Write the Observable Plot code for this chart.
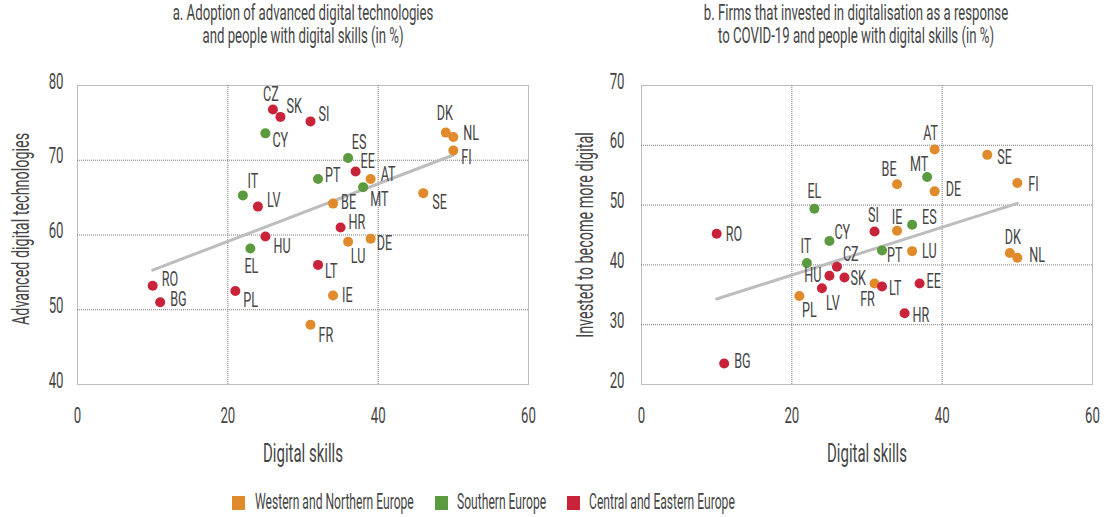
<!DOCTYPE html>
<html>
<head>
<meta charset="utf-8">
<script src="https://cdn.jsdelivr.net/npm/d3@7"></script>
<script src="https://cdn.jsdelivr.net/npm/@observablehq/plot@0.6"></script>
<style>
  body { margin: 0; background: #fff; }
  #root { position: relative; width: 1106px; height: 517px; overflow: hidden;
          font-family: Roboto, "Open Sans", sans-serif; font-weight: 400; color: #454545; background: #fff; }
  .ttl { position: absolute; white-space: nowrap; font-size: 22px; line-height: 22px; }
  .panel { position: absolute; top: 60px; }
  .sw { position: absolute; width: 13px; height: 14px; top: 496px; }
  .lt { position: absolute; white-space: nowrap; font-size: 22px; line-height: 22px; top: 491px; transform-origin: 0 50%; }
</style>
</head>
<body>
<div id="root"></div>
<script>
// ---------------- data ----------------
const countries = ["AT","BE","BG","CY","CZ","DE","DK","EE","EL","ES","FI","FR","HR","HU","IE","IT","LT","LU","LV","MT","NL","PL","PT","RO","SE","SI","SK"];
// people with digital skills (%)
const digitalSkills = [39,34,11,25,26,39,49,37,23,36,50,31,35,25,34,22,32,36,24,38,50,21,32,10,46,31,27];
// panel a: adoption of advanced digital technologies (%)
const advancedTech = [67.5,64.2,51.0,73.6,76.8,59.5,73.7,68.5,58.2,70.3,71.3,48.0,61.0,59.8,51.9,65.3,56.0,59.1,63.8,66.4,73.1,52.5,67.5,53.2,65.6,75.2,75.8];
// panel b: firms that invested to become more digital (%)
const investedDigital = [59.3,53.5,23.5,44.0,39.7,52.3,42.0,36.9,49.4,46.7,53.7,36.9,31.9,38.2,45.7,40.3,36.4,42.3,36.1,54.7,41.2,34.8,42.4,45.2,58.4,45.6,37.9];
// region groups (W = Western and Northern, S = Southern, C = Central and Eastern)
const groupA = ["W","W","C","S","C","W","W","C","S","S","W","W","C","C","W","S","C","W","C","S","W","C","S","C","W","C","C"];
const groupB = ["W","W","C","S","C","W","W","C","S","S","W","W","C","C","W","S","C","W","C","S","W","W","S","C","W","C","C"];
const groupKeys = ["W","S","C"];
const groupNames = ["Western and Northern Europe","Southern Europe","Central and Eastern Europe"];
const groupColors = ["#e08a2b","#5b9a3e","#c9233a"];
// fitted trend lines (end points)
const trendAx = [10, 50], trendAy = [55.3, 70.7];
const trendBx = [10, 50], trendBy = [34.3, 50.3];
// ticks
const xTicks = [0, 20, 40, 60];
const yTicksA = [40, 50, 60, 70, 80];
const yTicksB = [20, 30, 40, 50, 60, 70];

// ---------------- label placement (dx, dy, anchor) ----------------
const labelPosA = {
  CZ:[-2,-15,"middle"], SK:[6,-11,"start"], SI:[8,-7,"start"], CY:[7,7,"start"], DK:[-1,-19,"middle"],
  NL:[10,-4,"start"], FI:[8,7,"start"], ES:[11,-16,"middle"], EE:[5,-10,"start"], AT:[10,-5,"start"],
  PT:[7,-4,"start"], MT:[7,12,"start"], IT:[10,-14,"middle"], SE:[9,9,"start"], LV:[9,-6,"start"],
  BE:[8,-1,"start"], HR:[8,-5,"start"], HU:[8,10,"start"], LU:[10,15,"middle"], DE:[6,5,"start"],
  EL:[1,18,"middle"], LT:[7,6,"start"], RO:[9,-7,"start"], BG:[10,-3,"start"], PL:[8,9,"start"],
  IE:[9,0,"start"], FR:[8,11,"start"]
};
const labelPosB = {
  AT:[-4,-16,"middle"], SE:[10,2,"start"], MT:[-8,-13,"middle"], BE:[-8,-15,"middle"], DE:[11,-2,"start"],
  FI:[11,1,"start"], EL:[0,-17,"middle"], ES:[10,-8,"start"], SI:[-1,-16,"middle"], IE:[0,-14,"middle"],
  RO:[9,0,"start"], CY:[5,-9,"start"], PT:[5,5,"start"], LU:[10,0,"start"], DK:[3,-16,"middle"],
  NL:[12,-2,"start"], IT:[-1,-17,"middle"], CZ:[6,-12,"start"], HU:[-8,0,"end"], SK:[6,1,"start"],
  EE:[7,-2,"start"], FR:[-7,16,"middle"], LT:[7,2,"start"], LV:[11,15,"middle"], PL:[10,14,"middle"],
  HR:[8,2,"start"], BG:[10,-2,"start"]
};

const K = 0.6; // horizontal condensing of the text face
const KL = 0.55; // legend condensing
const gridStyle = { stroke: "#7a7a7a", strokeOpacity: 1, strokeWidth: 1, strokeDasharray: "1,1" };

function condense(svg) {
  svg.querySelectorAll("text").forEach(t => {
    const tr = t.getAttribute("transform");
    if (tr) t.setAttribute("transform", tr + ` scale(${K},1)`);
    else {
      const x = +(t.getAttribute("x") || 0);
      t.setAttribute("x", x / K);
      t.setAttribute("transform", `scale(${K},1)`);
    }
  });
}

function panel({yVals, groups, yDomain, yTicks, trendX, trendY, labelPos, marginLeft, marginRight, tickPad, yTitle, yTitleDy}) {
  const rows = countries.map((c, i) => ({code: c, skills: digitalSkills[i], value: yVals[i], group: groups[i]}));
  const trend = trendX.map((x, i) => ({x, y: trendY[i]}));
  const labels = rows.map(r => {
    const [dx, dy, anchor] = labelPos[r.code];
    return Plot.text([r], {x: "skills", y: "value", text: "code", dx, dy, textAnchor: anchor, lineAnchor: "middle", fontSize: 21});
  });
  const svg = Plot.plot({
    width: 553, height: 410,
    marginLeft, marginRight, marginTop: 25, marginBottom: 86,
    style: {fontFamily: "Roboto, 'Open Sans', sans-serif", fontWeight: 400, color: "#454545", background: "transparent", overflow: "visible"},
    x: {domain: [0, 60]},
    y: {domain: yDomain},
    color: {domain: groupKeys, range: groupColors},
    marks: [
      Plot.gridX({ticks: xTicks.slice(1, -1), ...gridStyle}),
      Plot.gridY({ticks: yTicks.slice(1, -1), ...gridStyle}),
      Plot.frame(gridStyle),
      Plot.axisX({ticks: xTicks, tickSize: 0, tickPadding: 23, fontSize: 22, label: null}),
      Plot.axisY({ticks: yTicks, tickSize: 0, tickPadding: tickPad, dy: -4, fontSize: 22, label: null}),
      Plot.line(trend, {x: "x", y: "y", stroke: "#bdbdbf", strokeWidth: 3}),
      Plot.dot(rows, {x: "skills", y: "value", fill: "group", r: 5}),
      ...labels,
      Plot.text(["Digital skills"], {frameAnchor: "bottom", text: d => d, dy: 69, textAnchor: "middle", lineAnchor: "middle", fontSize: 25}),
      Plot.text([yTitle], {frameAnchor: "left", text: d => d, rotate: -90, dx: -56, dy: yTitleDy, textAnchor: "middle", lineAnchor: "middle", fontSize: 24})
    ]
  });
  condense(svg);
  return svg;
}

const root = document.getElementById("root");

function addDiv(cls, text, styles) {
  const d = document.createElement("div");
  d.className = cls;
  d.textContent = text;
  Object.assign(d.style, styles);
  root.appendChild(d);
  return d;
}

// titles
const titles = [
  ["a. Adoption of advanced digital technologies", 303, 2],
  ["and people with digital skills (in %)", 303, 25],
  ["b. Firms that invested in digitalisation as a response", 856, 2],
  ["to COVID-19 and people with digital skills (in %)", 856, 25]
];
titles.forEach(([t, cx, top]) => addDiv("ttl", t, {left: cx + "px", top: top + "px", transform: `translateX(-50%) scaleX(${K})`}));

// panels
const pa = panel({yVals: advancedTech, groups: groupA, yDomain: [40, 80], yTicks: yTicksA, trendX: trendAx, trendY: trendAy,
  labelPos: labelPosA, marginLeft: 77, marginRight: 25, tickPad: 14, yTitle: "Advanced digital technologies", yTitleDy: -6});
const pb = panel({yVals: investedDigital, groups: groupB, yDomain: [20, 70], yTicks: yTicksB, trendX: trendBx, trendY: trendBy,
  labelPos: labelPosB, marginLeft: 88, marginRight: 14, tickPad: 17, yTitle: "Invested to become more digital", yTitleDy: 0});
const wa = document.createElement("div"); wa.className = "panel"; wa.style.left = "0px"; wa.appendChild(pa); root.appendChild(wa);
const wb = document.createElement("div"); wb.className = "panel"; wb.style.left = "553px"; wb.appendChild(pb); root.appendChild(wb);

// legend
const legendSwatchX = [232, 435, 567];
const legendTextX = [255, 457, 589];
groupNames.forEach((name, i) => {
  addDiv("sw", "", {left: legendSwatchX[i] + "px", background: groupColors[i]});
  addDiv("lt", name, {left: legendTextX[i] + "px", transform: `scaleX(${KL})`});
});
</script>
</body>
</html>
